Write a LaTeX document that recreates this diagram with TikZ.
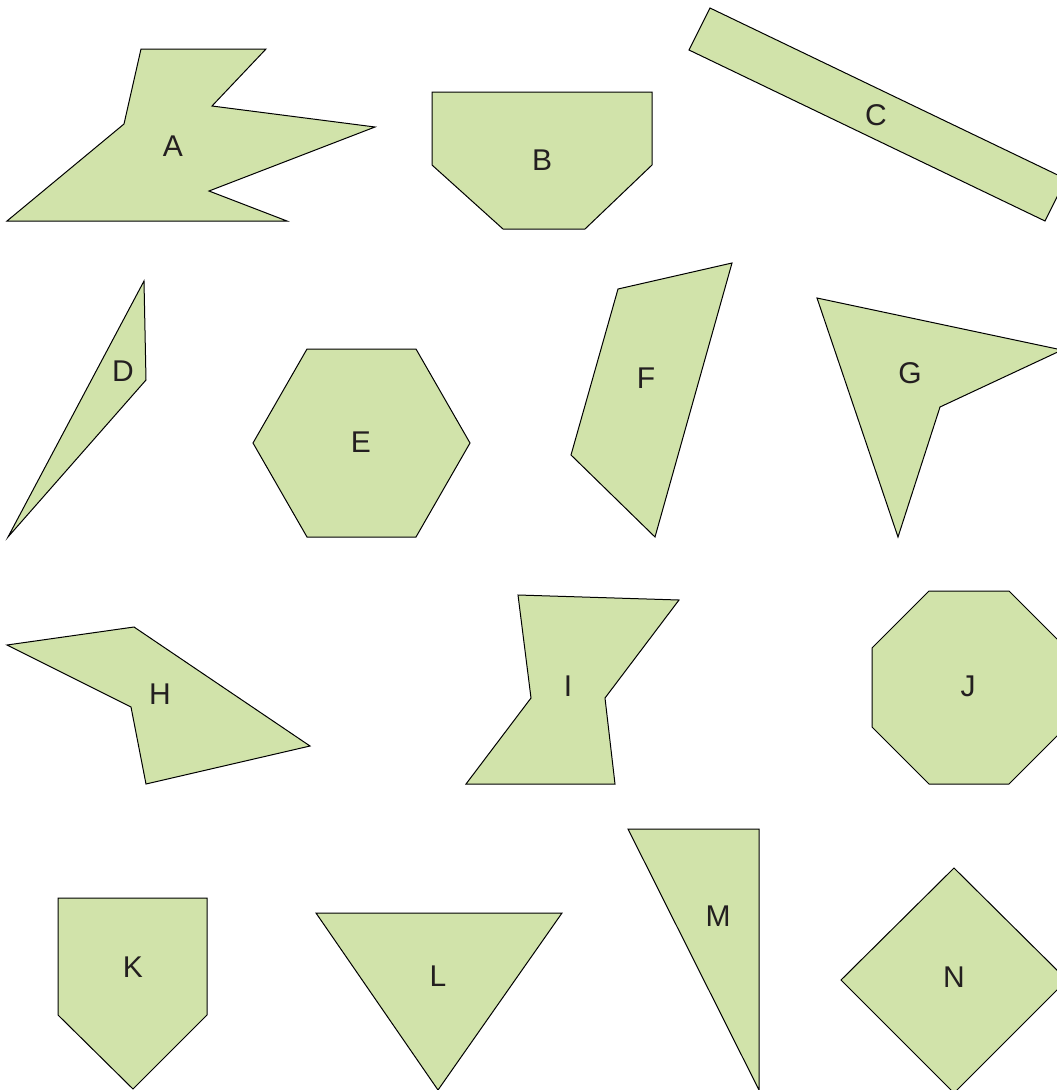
\documentclass[tikz,border=0pt]{standalone}
\usepackage{fontspec}
\setmainfont{Liberation Sans}
\definecolor{shapefill}{RGB}{209,227,170}
\definecolor{labelcol}{RGB}{35,31,32}
\begin{document}
\begin{tikzpicture}[x=1pt,y=-1pt,
  shp/.style={draw=black,line width=1pt,fill=shapefill,line join=miter},
  lbl/.style={font=\fontsize{30}{36}\selectfont,text=labelcol,inner sep=0pt}]
\useasboundingbox (0,0) rectangle (1057,1090);
\clip (0,0) rectangle (1057,1090);
% A
\draw[shp] (141,49) -- (266,49) -- (212,106) -- (375,127) -- (209,191) -- (287,221) -- (7,221) -- (124,124) -- cycle;
\node[lbl] (A) at (173,146) {A};
% B
\draw[shp] (432,92) -- (652,92) -- (652,165) -- (585,229) -- (503,229) -- (432,165) -- cycle;
\node[lbl] (B) at (542,160) {B};
% C
\draw[shp] (710,8) -- (1066,179) -- (1045,221) -- (689,50) -- cycle;
\node[lbl] (C) at (876,115) {C};
% D
\draw[shp] (144,281) -- (146,380) -- (8,537) -- cycle;
\node[lbl] (D) at (123,371) {D};
% E
\draw[shp] (307,349) -- (416,349) -- (470,443) -- (416,537) -- (307,537) -- (253,443) -- cycle;
\node[lbl] (E) at (361,442) {E};
% F
\draw[shp] (618,289) -- (732,263) -- (655,537) -- (571,455) -- cycle;
\node[lbl] (F) at (646,378) {F};
% G
\draw[shp] (817,298) -- (1062,350) -- (940,407) -- (898,537) -- cycle;
\node[lbl] (G) at (910,373) {G};
% H
\draw[shp] (7,645) -- (134,627) -- (310,746) -- (146,784) -- (131,707) -- cycle;
\node[lbl] (H) at (160,694) {H};
% I
\draw[shp] (518,595) -- (679,600) -- (605,698) -- (615,784) -- (466,784) -- (531,698) -- cycle;
\node[lbl] (I) at (568,686) {I};
% J
\draw[shp] (929,591) -- (1009,591) -- (1066,648) -- (1066,727) -- (1009,784) -- (929,784) -- (872,727) -- (872,648) -- cycle;
\node[lbl] (J) at (968,686) {J};
% K
\draw[shp] (58,898) -- (207,898) -- (207,1015) -- (133,1089) -- (58,1015) -- cycle;
\node[lbl] (K) at (133,967) {K};
% L
\draw[shp] (316,913) -- (562,913) -- (438,1090) -- cycle;
\node[lbl] (L) at (438,976) {L};
% M
\draw[shp] (628,829) -- (759,829) -- (759,1090) -- cycle;
\node[lbl] (M) at (718,916) {M};
% N
\draw[shp] (954,868) -- (1067,980) -- (954,1093) -- (841,980) -- cycle;
\node[lbl] (N) at (954,977) {N};
\end{tikzpicture}
\end{document}
